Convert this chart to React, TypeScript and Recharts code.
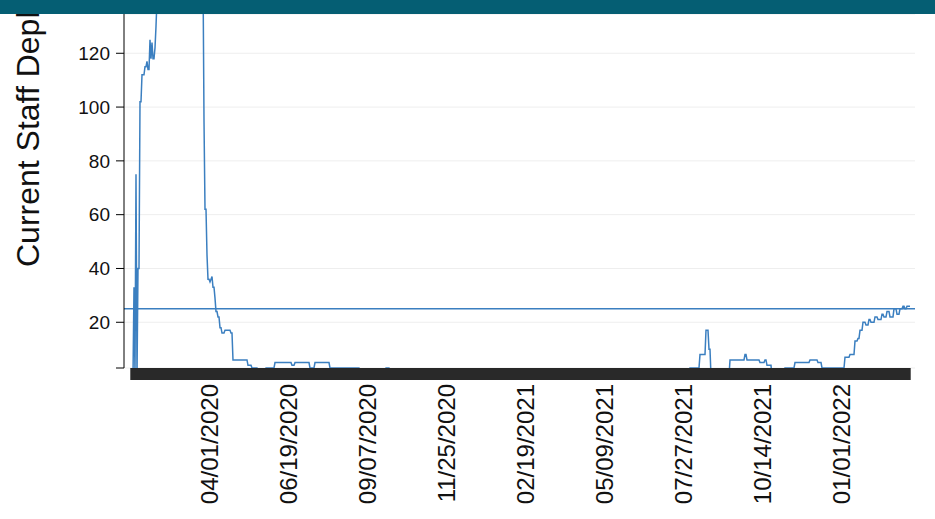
import React from "react";
import { LineChart, Line, XAxis, YAxis, CartesianGrid, ReferenceLine } from "recharts";

const START_DATE = "2020-01-13";
const DAY_COUNT = 780;
const LABEL_EVERY = 79;

// [day index, staff count] at the days the value changes
const keyPoints: [number, number][] = [
	[0, 0], [3, 33], [4, 0], [5, 75], [6, 0], [7, 40], [9, 102], [11, 112], [14, 115], [16, 117],
	[17, 114], [19, 125], [20, 118], [21, 124], [22, 118], [24, 122], [25, 130], [26, 140],
	[40, 160], [60, 170], [72, 150], [73, 95], [74, 62], [76, 45], [77, 36], [79, 35], [80, 36],
	[81, 37], [82, 33], [84, 29], [85, 24], [87, 22], [89, 18], [91, 16], [94, 17], [100, 16],
	[102, 6], [115, 6], [117, 4], [121, 3], [127, 2], [135, 3], [144, 5], [159, 5], [161, 4],
	[164, 5], [174, 5], [179, 3], [184, 5], [194, 5], [199, 3], [225, 3], [229, 2], [255, 3],
	[259, 2], [265, 0], [404, 2], [406, 0], [479, 2], [481, 0], [559, 3], [569, 8], [572, 8],
	[575, 17], [578, 10], [580, 0], [597, 0], [599, 6], [602, 6], [614, 8], [616, 6], [629, 5],
	[634, 6], [636, 4], [641, 0], [652, 0], [654, 3], [659, 3], [664, 5], [669, 5], [679, 6],
	[684, 6], [687, 5], [691, 3], [709, 3], [714, 7], [719, 8], [724, 13], [727, 14], [729, 17],
	[732, 20], [735, 19], [738, 21], [740, 20], [744, 22], [747, 21], [751, 23], [753, 22],
	[756, 24], [759, 22], [763, 25], [766, 23], [769, 25], [772, 26], [774, 25], [776, 26],
];

// dates absent from the source data
const missingDates = [
	"08/01/2020",
	"12/26/2020", "12/27/2020", "12/28/2020", "12/29/2020", "12/30/2020", "12/31/2020", "01/01/2021",
];

const yTicks = [3, 20, 40, 60, 80, 100, 120];

function fmt(d: Date) {
	const mm = String(d.getUTCMonth() + 1).padStart(2, "0");
	const dd = String(d.getUTCDate()).padStart(2, "0");
	return `${mm}/${dd}/${d.getUTCFullYear()}`;
}

function buildRows() {
	const start = new Date(START_DATE + "T00:00:00Z").getTime();
	const rows: { date: string; staff: number }[] = [];
	let k = 0;
	let cur = keyPoints[0][1];
	let day = 0;
	while (rows.length < DAY_COUNT) {
		const i = rows.length;
		while (k < keyPoints.length && keyPoints[k][0] <= i) {
			cur = keyPoints[k][1];
			k++;
		}
		const label = fmt(new Date(start + day * 86400000));
		day++;
		if (missingDates.includes(label)) continue;
		rows.push({ date: label, staff: cur });
	}
	return rows;
}

const data = buildRows();

function DateTick(props: any) {
	const { x, y, index, payload } = props;
	return (
		<g>
			<line x1={x} y1={y - 8} x2={x} y2={y + 4} stroke="#000" strokeWidth={1.2} />
			{index > 0 && index % LABEL_EVERY === 0 && (
				<text
					x={0}
					y={0}
					transform={`translate(${x + 8},${y + 8}) rotate(-90)`}
					textAnchor="end"
					fontSize={24}
					fill="#111"
				>
					{payload.value}
				</text>
			)}
		</g>
	);
}

export default function App() {
	return (
		<div style={{ position: "absolute", left: 0, top: 0, width: 935, height: 519, background: "#fff", fontFamily: "Liberation Sans, Arial, sans-serif" }}>
			<LineChart width={935} height={519} data={data} margin={{ top: 14, right: 20, bottom: 0, left: 0 }}>
				<CartesianGrid vertical={false} stroke="#eee" />
				<XAxis
					dataKey="date"
					interval={0}
					height={151}
					axisLine={false}
					tickLine={false}
					tick={<DateTick />}
					padding={{ left: 7, right: 5 }}
				/>
				<YAxis
					width={124}
					domain={[3, 134.6]}
					allowDataOverflow
					ticks={yTicks}
					tickFormatter={(v: number) => (v === 3 ? "" : String(v))}
					axisLine={{ stroke: "#000" }}
					tickLine={{ stroke: "#000" }}
					tickSize={8}
					tickMargin={6}
					tick={{ fill: "#111", fontSize: 19 }}
				/>
				<ReferenceLine y={25} stroke="#3b7fc0" strokeWidth={1.5} ifOverflow="extendDomain" />
				<Line type="linear" dataKey="staff" stroke="#3b7fc0" strokeWidth={1.5} dot={false} isAnimationActive={false} />
			</LineChart>
			<svg width={60} height={519} style={{ position: "absolute", left: 0, top: 0, pointerEvents: "none" }}>
				<text transform="translate(39,267) rotate(-90)" fontSize={32} fill="#111" fontFamily="Liberation Sans, Arial, sans-serif">
					Current Staff Deployed
				</text>
			</svg>
			<div style={{ position: "absolute", left: 0, top: 0, width: 935, height: 14, background: "#055e73" }} />
		</div>
	);
}
